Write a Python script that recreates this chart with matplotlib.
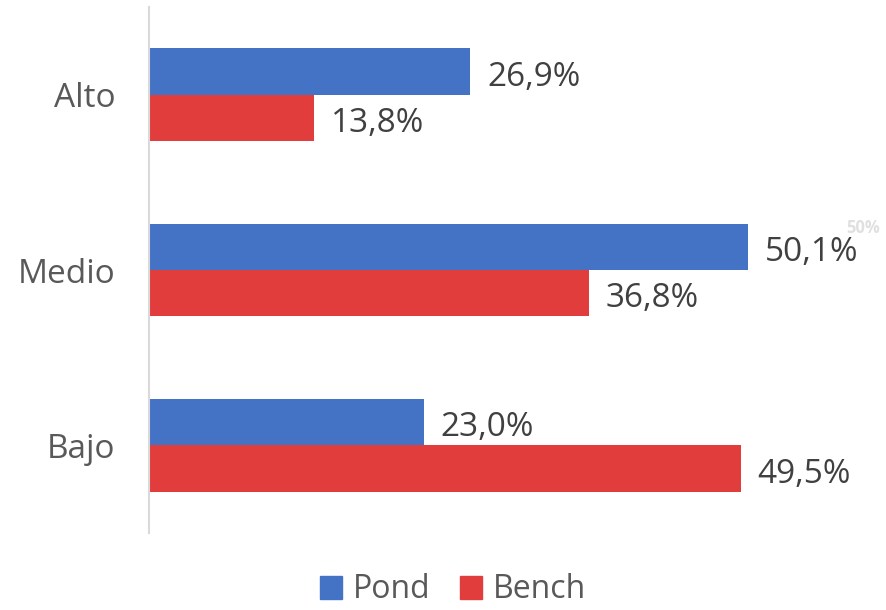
import matplotlib
matplotlib.use("Agg")
import matplotlib.pyplot as plt
from matplotlib.patches import Patch

categories = ["Alto", "Medio", "Bajo"]
pond = [0.269, 0.501, 0.230]
bench = [0.138, 0.368, 0.495]
pond_labels = ["26,9%", "50,1%", "23,0%"]
bench_labels = ["13,8%", "36,8%", "49,5%"]
series_names = ["Pond", "Bench"]

plt.rcParams['font.family'] = ['Open Sans', 'DejaVu Sans']
txt = "#404040"
blue = "#4472C4"
red = "#E13D3D"

fig = plt.figure(figsize=(8.87, 6.10), dpi=100)
ax = fig.add_axes([149/887, 1-533/610, 717/887, 526/610])

h = 0.264
fs = 24
ys = list(range(len(categories)))
ax.barh([y - h/2 for y in ys], pond, height=h, color=blue)
ax.barh([y + h/2 for y in ys], bench, height=h, color=red)
for y, v, l in zip(ys, pond, pond_labels):
    ax.text(v + 0.014, y - h/2 + 0.01, l, va="center_baseline", ha="left", fontsize=fs, color=txt)
for y, v, l in zip(ys, bench, bench_labels):
    ax.text(v + 0.014, y + h/2 + 0.01, l, va="center_baseline", ha="left", fontsize=fs, color=txt)

ax.set_xlim(0, 0.6)
ax.set_ylim(2.5, -0.5)
ax.set_yticks(ys)
ax.set_yticklabels(categories, fontsize=fs, color="#595959")
ax.tick_params(axis="y", length=0, pad=24)
ax.set_xticks([])
for s in ["top", "right", "bottom"]:
    ax.spines[s].set_visible(False)
ax.spines["left"].set_color("#D9D9D9")
ax.spines["left"].set_linewidth(1.5)

fig.text(863/887, 1-228/610, "50%", fontsize=12, color="#E0E0E0", ha="center", va="center", fontweight="bold")

handles = [Patch(color=blue), Patch(color=red)]
fig.legend(handles, series_names, loc="center", bbox_to_anchor=(453/887, 1-590/610),
           ncol=2, frameon=False, fontsize=23, labelcolor="#595959",
           handlelength=0.7, handleheight=0.7, handletextpad=0.35, columnspacing=0.9,
           borderpad=0.1)

fig.savefig("out.png", dpi=100)
